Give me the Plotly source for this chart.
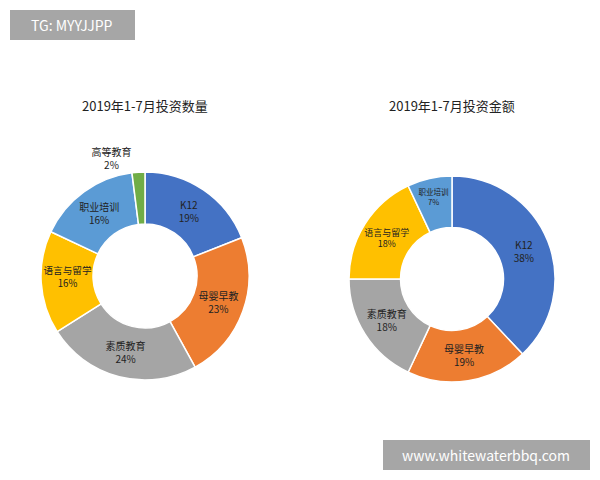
import plotly.graph_objects as go

labels_left = ["K12", "母婴早教", "素质教育", "语言与留学", "职业培训", "高等教育"]
values_left = [19, 23, 24, 16, 16, 2]
labels_right = ["K12", "母婴早教", "素质教育", "语言与留学", "职业培训"]
values_right = [38, 19, 18, 18, 7]
colors = ["#4472C4", "#ED7D31", "#A5A5A5", "#FFC000", "#5B9BD5", "#70AD47"]

W, H, O = 600, 480, 8  # O: page offset
def px(x): return (x - O) / W
def py(y): return 1 - (y - O) / H

fig = go.Figure()
common = dict(hole=0.5, sort=False, direction="clockwise", rotation=0,
              textinfo="text", insidetextorientation="horizontal",
              textfont=dict(size=10, color="#222", family="Noto Sans CJK SC"),
              marker=dict(colors=colors, line=dict(color="white", width=1.5)),
              showlegend=False, hoverinfo="label+percent")
fig.add_trace(go.Pie(labels=labels_left, values=values_left,
                     text=[f"{l}<br>{v}%" for l, v in zip(labels_left, values_left)],
                     textposition=["inside"] * 5 + ["outside"],
                     domain=dict(x=[px(40), px(250)], y=[py(380), py(172)]), **common))
fig.add_trace(go.Pie(labels=labels_right, values=values_right,
                     text=[f"{l}<br>{v}%" for l, v in zip(labels_right, values_right)],
                     textposition="inside",
                     domain=dict(x=[px(347), px(557)], y=[py(382), py(176)]), **common))

def ann(t, x, y, size):
    return dict(text=t, x=px(x), y=py(y), xref="paper", yref="paper",
                xanchor="center", yanchor="middle", showarrow=False,
                font=dict(size=size, color="#222" if size == 13 else "white"))

fig.update_layout(
    width=W, height=H, margin=dict(l=0, r=0, t=0, b=0),
    paper_bgcolor="white", font=dict(family="Noto Sans CJK SC"),
    annotations=[
        ann("2019年1-7月投资数量", 145, 106, 13),
        ann("2019年1-7月投资金额", 452, 106, 13),
        ann("TG: MYYJJPP", 72, 25, 14),
        ann("www.whitewaterbbq.com", 486, 455, 14),
    ],
    shapes=[
        dict(type="rect", xref="paper", yref="paper", x0=px(10), x1=px(135),
             y0=py(40), y1=py(10), fillcolor="#A6A6A6", line=dict(width=0), layer="below"),
        dict(type="rect", xref="paper", yref="paper", x0=px(383), x1=px(590),
             y0=py(470), y1=py(440), fillcolor="#A6A6A6", line=dict(width=0), layer="below"),
    ],
)
fig.write_html("out.html")
